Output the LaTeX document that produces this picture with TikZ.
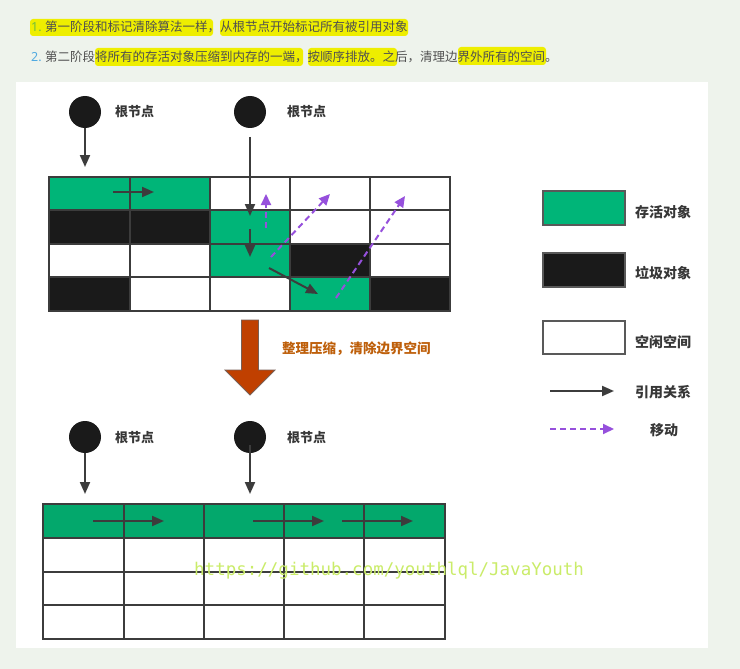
\documentclass[tikz,border=0pt]{standalone}
\usepackage{fontspec}
\newfontfamily\cjk{Noto Sans CJK SC}
\newfontfamily\numfont{Noto Sans}
\newfontfamily\mono{DejaVu Sans Mono}
\usetikzlibrary{arrows.meta}
\definecolor{bg}{RGB}{238,243,236}
\definecolor{gtxt}{RGB}{80,80,80}
\definecolor{dtxt}{RGB}{55,55,55}
\definecolor{hl}{RGB}{238,238,0}
\definecolor{numblue}{RGB}{80,170,225}
\definecolor{numgreen}{RGB}{110,190,60}
\definecolor{live}{RGB}{0,181,120}
\definecolor{liveb}{RGB}{3,168,108}
\definecolor{dead}{RGB}{26,26,26}
\definecolor{gridc}{RGB}{60,60,60}
\definecolor{mv}{RGB}{150,80,220}
\definecolor{bigarrow}{RGB}{192,64,0}
\definecolor{bigedge}{RGB}{120,95,85}
\definecolor{lbl}{RGB}{190,95,10}
\definecolor{wm}{RGB}{202,236,105}
\begin{document}
\begin{tikzpicture}[x=1pt,y=-1pt,
  reftip/.style={draw=gridc, line width=2pt, -{Triangle[length=12pt,width=10pt]}},
  mvarrow/.style={draw=mv, line width=2pt, dash pattern=on 6pt off 4pt, -{Triangle[length=11pt,width=10pt]}},
  rootnode/.style={circle, fill=dead, minimum size=32pt, inner sep=0pt},
  rootlbl/.style={anchor=west, inner sep=0pt, text=dtxt, font=\cjk\bfseries\fontsize{13}{15}\selectfont},
  legendlbl/.style={anchor=west, inner sep=0pt, text=dtxt, font=\cjk\bfseries\fontsize{14}{16}\selectfont},
  bodytxt/.style={anchor=west, inner sep=0pt, text=gtxt, font=\cjk\fontsize{12.5}{15}\selectfont},
  numtxt/.style={anchor=west, inner sep=0pt, font=\numfont\bfseries\fontsize{12.5}{15}\selectfont},
  hlbox/.style={fill=hl, rounded corners=3pt},
  gridline/.style={draw=gridc, line width=2.3pt},
  legbox/.style={draw=gridc!85, line width=2.3pt}
]
\useasboundingbox (0,0) rectangle (740,669);
\fill[bg] (0,0) rectangle (740,669);
\fill[white] (16,82) rectangle (708,648);

% highlighted text
\fill[hlbox] (30,19) rectangle (213,36);
\fill[hlbox] (220,19) rectangle (408,36);
\fill[hlbox] (95,48) rectangle (303,66);
\fill[hlbox] (308,48) rectangle (397,66);
\fill[hlbox] (458,47) rectangle (546,65);
\node[numtxt, text=numgreen] (n1) at (31,27) {1.};
\node[bodytxt] (t1) at (45,27) {第一阶段和标记清除算法一样，从根节点开始标记所有被引用对象};
\node[numtxt, text=numblue] (n2) at (31,57) {2.};
\node[bodytxt] (t2) at (45,57) {第二阶段将所有的存活对象压缩到内存的一端，按顺序排放。之后，清理边界外所有的空间。};

% ---------- top grid ----------
\fill[live] (49,177) rectangle (210,210);
\fill[dead] (49,210) rectangle (210,244);
\fill[live] (210,210) rectangle (290,277);
\fill[dead] (290,244) rectangle (370,277);
\fill[dead] (49,277) rectangle (130,311);
\fill[live] (290,277) rectangle (370,311);
\fill[dead] (370,277) rectangle (450,311);
\foreach \x in {49,130,210,290,370,450} \draw[gridline] (\x,176) -- (\x,312);
\foreach \y in {177,210,244,277,311} \draw[gridline] (48,\y) -- (451,\y);

\node[rootnode] (r1) at (85,112) {};
\node[rootlbl] (r1l) at (115,112) {根节点};
\node[rootnode] (r2) at (250,112) {};
\node[rootlbl] (r2l) at (287,112) {根节点};

\coordinate (a1e) at (85,167);
\coordinate (a2s) at (250,137);
\coordinate (a2e) at (250,216);
\coordinate (a3s) at (250,229);
\coordinate (a3e) at (250,257);
\coordinate (a4s) at (113,192);
\coordinate (a4e) at (154,192);
\coordinate (a5s) at (269,268);
\coordinate (a5e) at (318,294);
\draw[reftip] (r1) -- (a1e);
\draw[reftip] (a2s) -- (a2e);
\draw[reftip] (a3s) -- (a3e);
\draw[reftip] (a4s) -- (a4e);
\draw[reftip] (a5s) -- (a5e);

\coordinate (m1s) at (266,228);
\coordinate (m1e) at (266,194);
\coordinate (m2s) at (271,257);
\coordinate (m2e) at (330,194);
\coordinate (m3s) at (336,298);
\coordinate (m3e) at (405,196);
\draw[mvarrow] (m1s) -- (m1e);
\draw[mvarrow] (m2s) -- (m2e);
\draw[mvarrow] (m3s) -- (m3e);

% ---------- legend ----------
\draw[legbox, fill=live] (543,191) rectangle (625,225);
\node[legendlbl] (l1) at (635,212) {存活对象};
\draw[legbox, fill=dead] (543,253) rectangle (625,287);
\node[legendlbl] (l2) at (635,273) {垃圾对象};
\draw[legbox, fill=white] (543,321) rectangle (625,354);
\node[legendlbl] (l3) at (635,342) {空闲空间};
\coordinate (lr1) at (550,391);
\coordinate (lr2) at (614,391);
\draw[reftip] (lr1) -- (lr2);
\node[legendlbl] (l4) at (635,392) {引用关系};
\coordinate (lm1) at (550,429);
\coordinate (lm2) at (614,429);
\draw[mvarrow] (lm1) -- (lm2);
\node[legendlbl] (l5) at (650,430) {移动};

% ---------- big arrow ----------
\draw[fill=bigarrow, draw=bigedge, line width=0.8pt]
  (241.5,320) -- (258.5,320) -- (258.5,370) -- (275,370) -- (250,395) -- (225,370) -- (241.5,370) -- cycle;
\node[anchor=west, inner sep=0pt, text=lbl, font=\cjk\bfseries\fontsize{13.5}{16}\selectfont] (bl) at (282,349) {整理压缩，清除边界空间};

% ---------- bottom grid ----------
\fill[liveb] (43,504) rectangle (445,538);
\foreach \x in {43,124,204,284,364,445} \draw[gridline] (\x,503) -- (\x,640);
\foreach \y in {504,538,572,605,639} \draw[gridline] (42,\y) -- (446,\y);

\node[rootnode] (r3) at (85,437) {};
\node[rootlbl] (r3l) at (115,438) {根节点};
\node[rootnode] (r4) at (250,437) {};
\node[rootlbl] (r4l) at (287,438) {根节点};
\coordinate (b1e) at (85,494);
\coordinate (b2s) at (250,445);
\coordinate (b2e) at (250,494);
\draw[reftip] (r3) -- (b1e);
\draw[reftip] (b2s) -- (b2e);
\coordinate (c1s) at (93,521);
\coordinate (c1e) at (164,521);
\coordinate (c2s) at (253,521);
\coordinate (c2e) at (324,521);
\coordinate (c3s) at (342,521);
\coordinate (c3e) at (413,521);
\draw[reftip] (c1s) -- (c1e);
\draw[reftip] (c2s) -- (c2e);
\draw[reftip] (c3s) -- (c3e);

% watermark
\node[anchor=west, inner sep=0pt, text=wm, font=\mono\fontsize{17.5}{20}\selectfont] (wm) at (194,571) {https://github.com/youthlql/JavaYouth};
\end{tikzpicture}
\end{document}
